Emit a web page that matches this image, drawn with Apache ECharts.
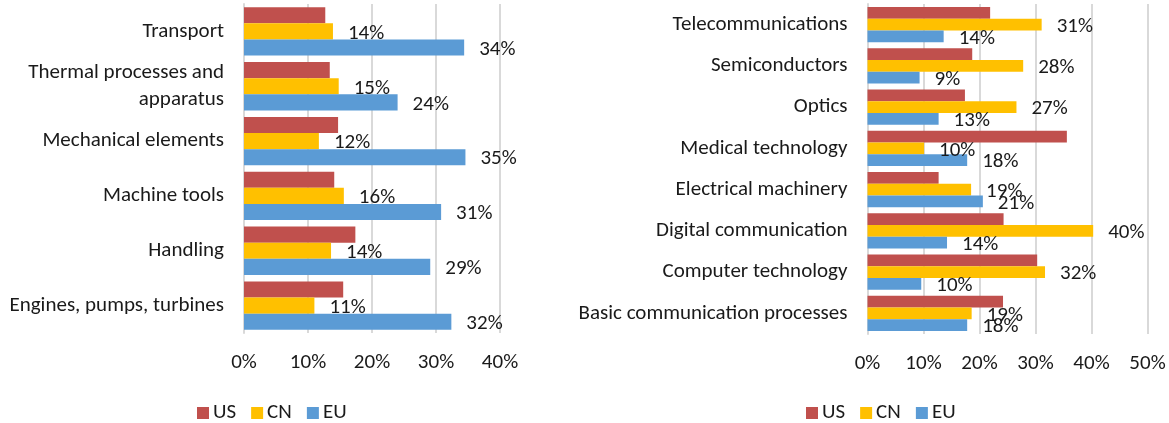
<!DOCTYPE html>
<html>
<head>
<meta charset="utf-8">
<script src="https://cdn.jsdelivr.net/npm/echarts@6/dist/echarts.min.js"></script>
<style>
  html, body { margin: 0; padding: 0; background: #fff; }
  #chart { width: 1169px; height: 423px; }
</style>
</head>
<body>
<div id="chart"></div>
<script>
// Left panel: mechanical fields (listed bottom to top)
const leftCategories = [
  'Engines, pumps, turbines',
  'Handling',
  'Machine tools',
  'Mechanical elements',
  'Thermal processes and\napparatus',
  'Transport'
];
const leftUS = [15.5, 17.4, 14.1, 14.7, 13.4, 12.7];
const leftCN = [11.0, 13.6, 15.6, 11.7, 14.8, 13.9];
const leftEU = [32.4, 29.1, 30.8, 34.6, 24.0, 34.4];

// Right panel: electrical / ICT fields (listed bottom to top)
const rightCategories = [
  'Basic communication processes',
  'Computer technology',
  'Digital communication',
  'Electrical machinery',
  'Medical technology',
  'Optics',
  'Semiconductors',
  'Telecommunications'
];
const rightUS = [24.2, 30.3, 24.3, 12.7, 35.6, 17.4, 18.7, 21.9];
const rightCN = [18.6, 31.7, 40.3, 18.5, 10.1, 26.6, 27.8, 31.1];
const rightEU = [17.8, 9.6, 14.2, 20.6, 17.8, 12.7, 9.3, 13.6];

const leftTicks = { max: 40, interval: 10 };
const rightTicks = { max: 50, interval: 10 };
const seriesNames = ['US', 'CN', 'EU'];

const COLORS = { US: '#C0504D', CN: '#FFC000', EU: '#5B9BD5' };
const FONT = 'Carlito, Calibri, Lato, sans-serif';
const TEXT = '#1a1a1a';
const FS = 21;

function valueAxis(gridIndex, ticks) {
  return {
    type: 'value', gridIndex, min: 0, max: ticks.max, interval: ticks.interval,
    axisLine: { show: false }, axisTick: { show: false },
    splitLine: { lineStyle: { color: '#D9D9D9', width: 2 } },
    axisLabel: { formatter: '{value}%', color: TEXT, fontFamily: FONT, fontSize: FS, margin: 19, lineHeight: 22 }
  };
}
function categoryAxis(gridIndex, cats) {
  return {
    type: 'category', gridIndex, data: cats,
    axisLine: { show: true, lineStyle: { color: '#D9D9D9', width: 2 } },
    axisTick: { show: false },
    axisLabel: { color: TEXT, fontFamily: FONT, fontSize: FS, margin: 20, lineHeight: 27, align: 'right' }
  };
}
const valueLabel = {
  show: true, position: 'right', distance: 15, offset: [0, 2],
  color: TEXT, fontFamily: FONT, fontSize: FS,
  formatter: p => Math.round(p.value) + '%'
};
function bars(axisIndex, name, values, labelled, gap) {
  return {
    type: 'bar', name, data: values,
    xAxisIndex: axisIndex, yAxisIndex: axisIndex,
    barGap: '0%', barCategoryGap: gap,
    itemStyle: { color: COLORS[name] },
    label: labelled ? valueLabel : { show: false },
    emphasis: { disabled: true }
  };
}
function legend(left) {
  return {
    data: seriesNames, left, top: 402, padding: 0, icon: 'rect',
    itemWidth: 12, itemHeight: 12, itemGap: 15,
    selectedMode: false,
    textStyle: { color: TEXT, fontFamily: FONT, fontSize: FS, lineHeight: 22, padding: [0, 0, 0, -1] }
  };
}

const chart = echarts.init(document.getElementById('chart'), null, { renderer: 'canvas' });
chart.setOption({
  animation: false,
  backgroundColor: '#fff',
  grid: [
    { left: 244, top: 4, width: 256, height: 329 },
    { left: 867.5, top: 4, width: 280, height: 330 }
  ],
  xAxis: [valueAxis(0, leftTicks), valueAxis(1, rightTicks)],
  yAxis: [categoryAxis(0, leftCategories), categoryAxis(1, rightCategories)],
  legend: [legend(197), legend(806)],
  // first series is drawn at the top of each category band
  series: [
    bars(0, 'US', leftUS, false, '12%'),
    bars(0, 'CN', leftCN, true, '12%'),
    bars(0, 'EU', leftEU, true, '12%'),
    bars(1, 'US', rightUS, false, '15%'),
    bars(1, 'CN', rightCN, true, '15%'),
    bars(1, 'EU', rightEU, true, '15%')
  ]
});
</script>
</body>
</html>
